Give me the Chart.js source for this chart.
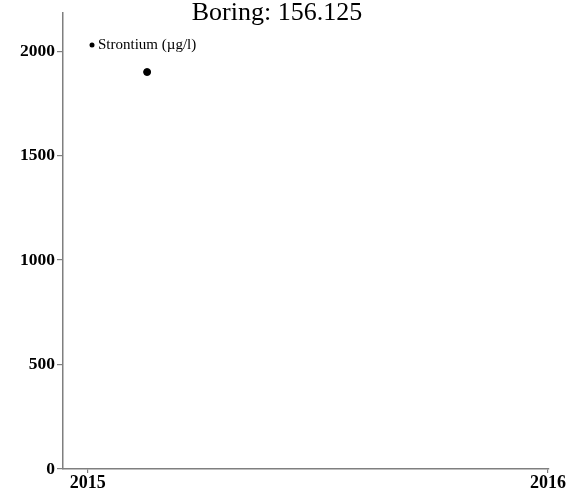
<!DOCTYPE html>
<html>
<head>
<meta charset="utf-8">
<script src="https://cdn.jsdelivr.net/npm/chart.js@4"></script>
<style>
  body { margin: 0; background: #fff; }
  #wrap { width: 574px; height: 495px; }
</style>
</head>
<body>
<div id="wrap"><canvas id="boring-chart" width="574" height="495"></canvas></div>
<script>
var titleText = 'Boring: 156.125'
var seriesLabel = 'Strontium (\u00b5g/l)'
var sampleDates = ['2015-02-17']
var strontium = [1900]
var yTicks = [0, 500, 1000, 1500, 2000]
var xTicks = [2015, 2016]

// date string -> decimal year
function toYear(s) {
  var d = new Date(s + 'T00:00:00Z')
  var y = d.getUTCFullYear()
  var start = Date.UTC(y, 0, 1), end = Date.UTC(y + 1, 0, 1)
  return y + (d.getTime() - start) / (end - start)
}

var points = sampleDates.map(function (s, i) {
  return { x: toYear(s), y: strontium[i] }
})

var serif = '"Liberation Serif", "Times New Roman", serif'
var axisGray = '#7f7f7f'

var overlay = {
  id: 'overlay',
  afterDraw: function (chart) {
    var ctx = chart.ctx
    ctx.save()
    ctx.fillStyle = '#000'
    ctx.font = '26px ' + serif
    ctx.textAlign = 'center'
    ctx.textBaseline = 'alphabetic'
    ctx.fillText(titleText, 277, 20)
    // legend inside the plot
    ctx.beginPath()
    ctx.arc(92, 45, 2.5, 0, Math.PI * 2)
    ctx.fill()
    ctx.font = '15px ' + serif
    ctx.textAlign = 'left'
    ctx.textBaseline = 'middle'
    ctx.fillText(chart.data.datasets[0].label, 98, 45)
    ctx.restore()
  }
}

var el = document.getElementById('boring-chart')
var chart = new Chart(el, {
  type: 'scatter',
  data: {
    datasets: [{
      label: seriesLabel,
      data: points,
      backgroundColor: '#000',
      borderColor: '#000',
      pointRadius: 3.5,
      showLine: false
    }]
  },
  options: {
    responsive: false,
    animation: false,
    layout: { padding: { top: 11, right: 25, left: 0, bottom: 0 } },
    plugins: {
      legend: { display: false },
      tooltip: { enabled: false }
    },
    scales: {
      x: {
        type: 'linear',
        min: 2014.946,
        max: 2016.002,
        afterBuildTicks: function (s) { s.ticks = xTicks.map(function (v) { return { value: v } }) },
        afterFit: function (s) { s.height = 26 },
        border: { color: axisGray, width: 1.5 },
        grid: { drawOnChartArea: false, color: axisGray, tickLength: 4, lineWidth: 1.2 },
        ticks: {
          color: '#000',
          padding: 0,
          maxRotation: 0,
          font: { family: serif, size: 18, weight: 'bold' },
          callback: function (v) { return String(v) }
        }
      },
      y: {
        min: 0,
        max: 2185,
        afterBuildTicks: function (s) { s.ticks = yTicks.map(function (v) { return { value: v } }) },
        afterFit: function (s) { s.width = 63 },
        border: { color: axisGray, width: 1.5 },
        grid: { drawOnChartArea: false, color: axisGray, tickLength: 6, lineWidth: 1.2 },
        ticks: {
          color: '#000',
          padding: 2,
          font: { family: serif, size: 17.5, weight: 'bold' },
          callback: function (v) { return String(v) }
        }
      }
    }
  },
  plugins: [overlay]
})
</script>
</body>
</html>
